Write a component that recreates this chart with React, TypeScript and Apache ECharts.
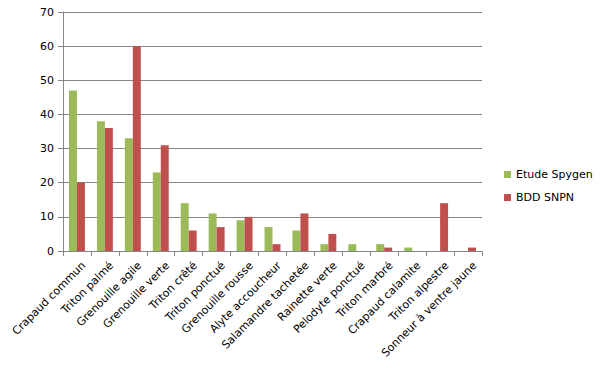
import React, { useEffect, useRef } from "react";
import * as echarts from "echarts";

const categories = [
  "Crapaud commun",
  "Triton palmé",
  "Grenouille agile",
  "Grenouille verte",
  "Triton crêté",
  "Triton ponctué",
  "Grenouille rousse",
  "Alyte accoucheur",
  "Salamandre tachetée",
  "Rainette verte",
  "Pelodyte ponctué",
  "Triton marbré",
  "Crapaud calamite",
  "Triton alpestre",
  "Sonneur à ventre jaune",
];
const spygen = [47, 38, 33, 23, 14, 11, 9, 7, 6, 2, 2, 2, 1, 0, 0];
const snpn = [20, 36, 60, 31, 6, 7, 10, 2, 11, 5, 0, 1, 0, 14, 1];
const seriesNames = ["Etude Spygen", "BDD SNPN"];

export default function App() {
  const ref = useRef<HTMLDivElement>(null);
  useEffect(() => {
    if (!ref.current) return;
    const chart = echarts.init(ref.current, undefined, { renderer: "svg" });
    const font = "DejaVu Sans";
    chart.setOption({
      animation: false,
      textStyle: { fontFamily: font },
      grid: { left: 63, right: 119, top: 12, bottom: 117, containLabel: false },
      legend: {
        orient: "vertical",
        left: 499,
        top: 164,
        itemWidth: 7,
        itemHeight: 7,
        itemGap: 12,
        icon: "rect",
        textStyle: { fontFamily: font, fontSize: 11, color: "#000" },
        data: seriesNames,
      },
      xAxis: {
        type: "category",
        data: categories,
        boundaryGap: true,
        axisLine: { lineStyle: { color: "#868686" } },
        axisTick: { show: true, length: 5, lineStyle: { color: "#868686" } },
        axisLabel: {
          rotate: 45,
          interval: 0,
          fontFamily: font,
          fontSize: 11,
          color: "#000",
          margin: 6,
          verticalAlign: "top",
          padding: [4, 0, 0, 0],
        },
      },
      yAxis: {
        type: "value",
        min: 0,
        max: 70,
        interval: 10,
        axisLine: { show: true, lineStyle: { color: "#868686" } },
        axisTick: { show: true, length: 5, lineStyle: { color: "#868686" } },
        splitLine: { lineStyle: { color: "#868686" } },
        axisLabel: { fontFamily: font, fontSize: 11, color: "#000", margin: 9 },
      },
      series: [
        {
          name: seriesNames[0],
          type: "bar",
          data: spygen,
          itemStyle: { color: "#9BBB59" },
          barGap: "0%",
          barCategoryGap: "43%",
        },
        {
          name: seriesNames[1],
          type: "bar",
          data: snpn,
          itemStyle: { color: "#C0504D" },
          barGap: "0%",
          barCategoryGap: "43%",
        },
      ],
    });
    return () => chart.dispose();
  }, []);
  return <div ref={ref} style={{ width: 601, height: 368, position: "absolute", left: 0, top: 0 }} />;
}
